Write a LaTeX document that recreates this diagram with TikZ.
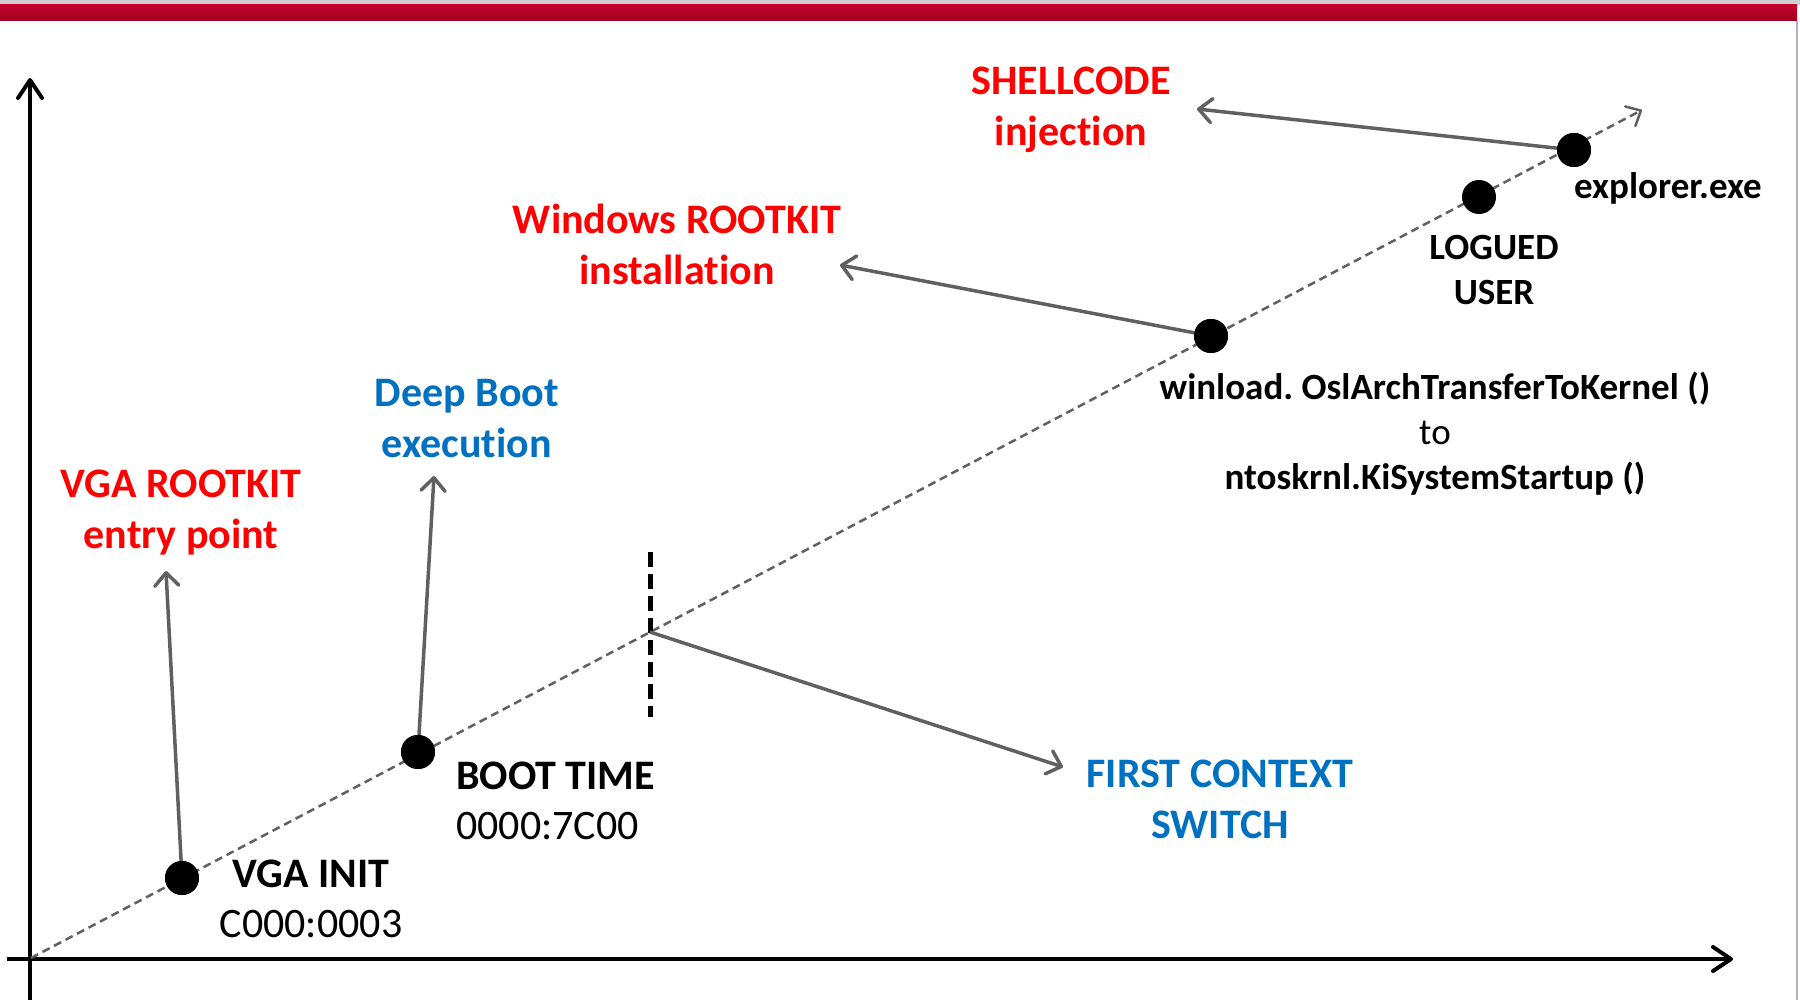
\documentclass[tikz,border=0pt]{standalone}
\usepackage{fontspec}
\setmainfont{Carlito}[Ligatures=NoCommon]
\usetikzlibrary{arrows.meta}
\definecolor{alertred}{HTML}{FF0000}
\definecolor{noteblue}{HTML}{0070C0}
\definecolor{linegray}{HTML}{606060}
\definecolor{bartop}{HTML}{C4002A}
\definecolor{barbottom}{HTML}{9E0020}
\definecolor{stripgray}{HTML}{CFCFCF}
\frenchspacing

\begin{document}
\begin{tikzpicture}[x=1pt,y=-1pt,
  axis/.style={line width=4pt,-{Straight Barb[length=18pt,width=24pt,round]}},
  pointer/.style={draw=linegray,line width=3.5pt,-{Straight Barb[length=13pt,width=24pt,round]}},
  trend/.style={draw=linegray,line width=2.5pt,dash pattern=on 8pt off 5pt,
    -{Straight Barb[length=12pt,width=22pt,round]}},
  marker/.style={draw=black,line width=5pt,dash pattern=on 15pt off 7pt},
  dot/.style={circle,fill=black,inner sep=0pt,minimum size=34pt},
  bigtext/.style={font=\fontsize{42}{51}\selectfont\bfseries,align=center,inner sep=0pt},
  redtext/.style={bigtext,text=alertred},
  bluetext/.style={bigtext,text=noteblue},
  stamp/.style={font=\fontsize{42}{50}\selectfont,align=center,inner sep=0pt},
  smalllabel/.style={font=\fontsize{37}{45}\selectfont\bfseries,align=center,inner sep=0pt}]
\useasboundingbox (0,0) rectangle (1800,1000);

% header band
\fill[stripgray] (0,0) rectangle (1800,5);
\shade[top color=bartop,bottom color=barbottom] (0,5) rectangle (1797,21);
\draw[gray!60,line width=1.5pt] (1797,21) -- (1797,1000);

% axes
\coordinate (o) at (31,958);
\coordinate (xs) at (7,959);
\coordinate (xe) at (1733,959);
\coordinate (ys) at (30,1000);
\coordinate (ye) at (30,78);
\draw[axis] (xs) -- (xe);
\draw[axis] (ys) -- (ye);

% timeline and context-switch marker
\coordinate (te) at (1642,110);
\draw[trend] (o) -- (te);
\coordinate (m1) at (650,552);
\coordinate (m2) at (650,717);
\coordinate (cs) at (650,632);
\draw[marker] (m1) -- (m2);

% milestones on the timeline
\node[dot] (vga) at (182,878) {};
\node[dot] (boot) at (418,752) {};
\node[dot] (winload) at (1211,336) {};
\node[dot] (user) at (1479,197) {};
\node[dot] (explorer) at (1574,150) {};

% arrow ends
\coordinate (vgaend) at (166,571);
\coordinate (bootend) at (434,476);
\coordinate (csend) at (1063,767);
\coordinate (winend) at (840,265);
\coordinate (expend) at (1197,109);

\draw[pointer] (vga.center) -- (vgaend);
\draw[pointer] (boot.center) -- (bootend);
\draw[pointer] (cs) -- (csend);
\draw[pointer] (winload.center) -- (winend);
\draw[pointer] (explorer.center) -- (expend);

% redraw dots over the pointers
\fill (vga) circle (17pt);
\fill (boot) circle (17pt);
\fill (winload) circle (17pt);
\fill (explorer) circle (17pt);

% event labels
\node[redtext] (shell) at (1071,110) {SHELLCODE\\injection};
\node[redtext] (winrk) at (677,244) {Windows ROOTKIT\\installation};
\node[bluetext] (deep) at (467,419) {Deep Boot\\execution};
\node[redtext] (vgark) at (181,513) {VGA ROOTKIT\\entry point};
\node[bluetext] (ctx) at (1220,799) {FIRST CONTEXT\\SWITCH};

% milestone labels
\node[stamp] (vgalbl) at (311,899) {\textbf{VGA INIT}\\C000:0003};
\node[stamp,align=left,anchor=west] (bootlbl) at (456,801) {\textbf{BOOT TIME}\\0000:7C00};
\node[smalllabel] (winlbl) at (1435,434) {winload. OslArchTransferToKernel ()\\{\mdseries to}\\ntoskrnl.KiSystemStartup ()};
\node[smalllabel] (userlbl) at (1494,270) {LOGUED\\USER};
\node[smalllabel] (explbl) at (1668,188) {explorer.exe};
\end{tikzpicture}
\end{document}
